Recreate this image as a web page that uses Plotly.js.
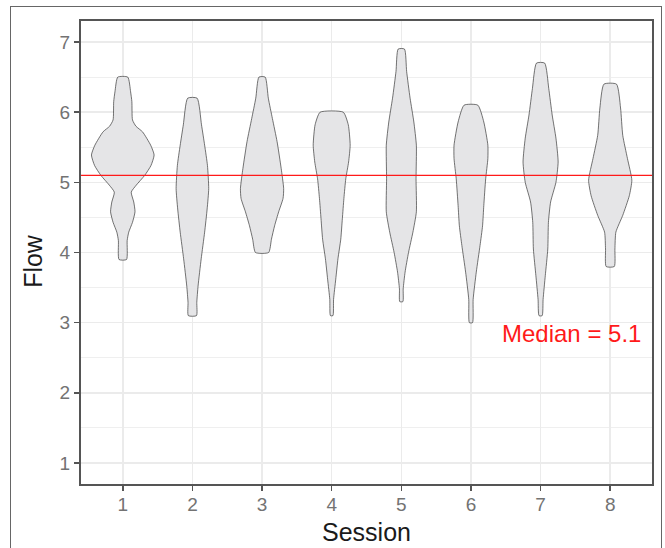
<!DOCTYPE html>
<html>
<head>
<meta charset="utf-8">
<script src="https://cdn.plot.ly/plotly-3.0.1.min.js"></script>
<style>
  html, body { margin: 0; padding: 0; background: #fff; overflow: hidden; }
  #frame { position: absolute; left: 10px; top: 6px; width: 652px; height: 600px; border: 1px solid #666; box-sizing: border-box; }
  #chart { position: absolute; left: 0; top: 0; width: 665px; height: 548px; }
</style>
</head>
<body>
<div id="frame"></div>
<div id="chart"></div>
<script>
// ---- Data ----
const sessions = [1, 2, 3, 4, 5, 6, 7, 8];
const tickLabels = ["1", "2", "3", "4", "5", "6", "7", "8"];
const medianFlow = 5.1;

// Flow levels (bottom to top) and relative density (1 = widest violin) per session
const s1Flow = [3.9, 4.17, 4.29, 4.43, 4.58, 4.72, 4.86, 4.96, 5.10, 5.24, 5.39, 5.53, 5.72, 5.80, 5.89, 6.15, 6.29, 6.5];
const s1Dens = [0.12, 0.14, 0.19, 0.31, 0.39, 0.35, 0.27, 0.43, 0.70, 0.90, 1.00, 0.89, 0.63, 0.42, 0.31, 0.29, 0.25, 0.16];

const s2Flow = [3.1, 3.29, 3.52, 3.91, 4.29, 4.62, 4.91, 5.24, 5.53, 5.82, 6.2];
const s2Dens = [0.13, 0.14, 0.18, 0.28, 0.39, 0.47, 0.52, 0.48, 0.39, 0.29, 0.15];

const s3Flow = [4.0, 4.19, 4.38, 4.58, 4.77, 4.91, 5.20, 5.58, 5.91, 6.20, 6.5];
const s3Dens = [0.21, 0.30, 0.40, 0.53, 0.67, 0.69, 0.61, 0.48, 0.33, 0.20, 0.10];

const s4Flow = [3.1, 3.33, 3.62, 3.91, 4.19, 4.48, 4.77, 5.05, 5.29, 5.53, 5.82, 6.0];
const s4Dens = [0.04, 0.06, 0.13, 0.20, 0.29, 0.34, 0.39, 0.45, 0.54, 0.59, 0.53, 0.37];

const s5Flow = [3.3, 3.48, 3.72, 4.00, 4.29, 4.58, 5.05, 5.53, 5.86, 6.20, 6.58, 6.9];
const s5Dens = [0.05, 0.06, 0.12, 0.23, 0.37, 0.48, 0.47, 0.48, 0.40, 0.28, 0.17, 0.10];

const s6Flow = [3.0, 3.33, 3.72, 4.10, 4.38, 4.67, 5.05, 5.34, 5.53, 5.86, 6.1];
const s6Dens = [0.05, 0.07, 0.17, 0.29, 0.37, 0.41, 0.47, 0.54, 0.54, 0.41, 0.22];

const s7Flow = [3.1, 3.33, 3.67, 4.05, 4.43, 4.72, 5.00, 5.29, 5.63, 5.96, 6.34, 6.7];
const s7Dens = [0.05, 0.08, 0.15, 0.23, 0.25, 0.32, 0.49, 0.56, 0.49, 0.37, 0.26, 0.13];

const s8Flow = [3.8, 4.05, 4.29, 4.53, 4.81, 5.03, 5.34, 5.67, 6.06, 6.4];
const s8Dens = [0.13, 0.15, 0.18, 0.40, 0.61, 0.69, 0.55, 0.40, 0.33, 0.20];

const flowBySession = [s1Flow, s2Flow, s3Flow, s4Flow, s5Flow, s6Flow, s7Flow, s8Flow];
const densBySession = [s1Dens, s2Dens, s3Dens, s4Dens, s5Dens, s6Dens, s7Dens, s8Dens];

// ---- Build violin outlines ----
const halfMax = 0.45;
const traces = sessions.map((s, k) => {
  const lv = flowBySession[k], dn = densBySession[k];
  const xs = [], ys = [];
  for (let i = 0; i < lv.length; i++) { xs.push(s + dn[i] * halfMax); ys.push(lv[i]); }
  for (let i = lv.length - 1; i >= 0; i--) { xs.push(s - dn[i] * halfMax); ys.push(lv[i]); }
  xs.push(xs[0]); ys.push(ys[0]);
  return {
    type: 'scatter', mode: 'lines', x: xs, y: ys,
    fill: 'toself', fillcolor: '#E5E5E7',
    line: { color: '#3a3a3a', width: 0.7, shape: 'spline', smoothing: 0.55 },
    hoverinfo: 'skip', showlegend: false
  };
});

const tickFont = { family: 'Liberation Sans, Arial, sans-serif', size: 19, color: '#737373' };
const titleFont = { family: 'Liberation Sans, Arial, sans-serif', size: 25, color: '#1a1a1a' };

const layout = {
  width: 665, height: 548,
  margin: { l: 81, r: 13, t: 21, b: 64 },
  paper_bgcolor: 'rgba(0,0,0,0)', plot_bgcolor: '#ffffff',
  showlegend: false,
  xaxis: {
    range: [0.4, 8.6], tickvals: sessions, ticktext: tickLabels,
    showgrid: true, gridcolor: '#EBEBEB', gridwidth: 1.6,
    zeroline: false, showline: true, mirror: true, linecolor: '#555555', linewidth: 2,
    ticks: 'outside', ticklen: 5, tickwidth: 1.5, tickcolor: '#555555',
    ticklabelstandoff: -3,
    tickfont: tickFont,
    title: { text: 'Session', font: titleFont, standoff: 10 }
  },
  yaxis: {
    range: [0.7, 7.3], tickvals: [1, 2, 3, 4, 5, 6, 7],
    showgrid: true, gridcolor: '#EBEBEB', gridwidth: 1.6,
    minor: { tickvals: [1.5, 2.5, 3.5, 4.5, 5.5, 6.5], showgrid: true, gridcolor: '#EFEFEF', gridwidth: 1 },
    zeroline: false, showline: true, mirror: true, linecolor: '#555555', linewidth: 2,
    ticks: 'outside', ticklen: 5, tickwidth: 1.5, tickcolor: '#555555',
    tickfont: tickFont
  },
  shapes: [{
    type: 'line', xref: 'paper', x0: 0, x1: 1, yref: 'y', y0: medianFlow, y1: medianFlow,
    line: { color: '#FF1A1A', width: 1.2 }, layer: 'above'
  }],
  annotations: [{
    x: 8.47, y: 2.85, xref: 'x', yref: 'y', xanchor: 'right', yanchor: 'middle',
    text: 'Median = ' + medianFlow, showarrow: false,
    font: { family: 'Liberation Sans, Arial, sans-serif', size: 24, color: '#FF1A1A' }
  }, {
    x: -0.084, y: 0.482, xref: 'paper', yref: 'paper', xanchor: 'center', yanchor: 'middle',
    text: 'Flow', textangle: -90, showarrow: false, font: titleFont
  }]
};

Plotly.newPlot('chart', traces, layout, { staticPlot: true, displayModeBar: false });
</script>
</body>
</html>
